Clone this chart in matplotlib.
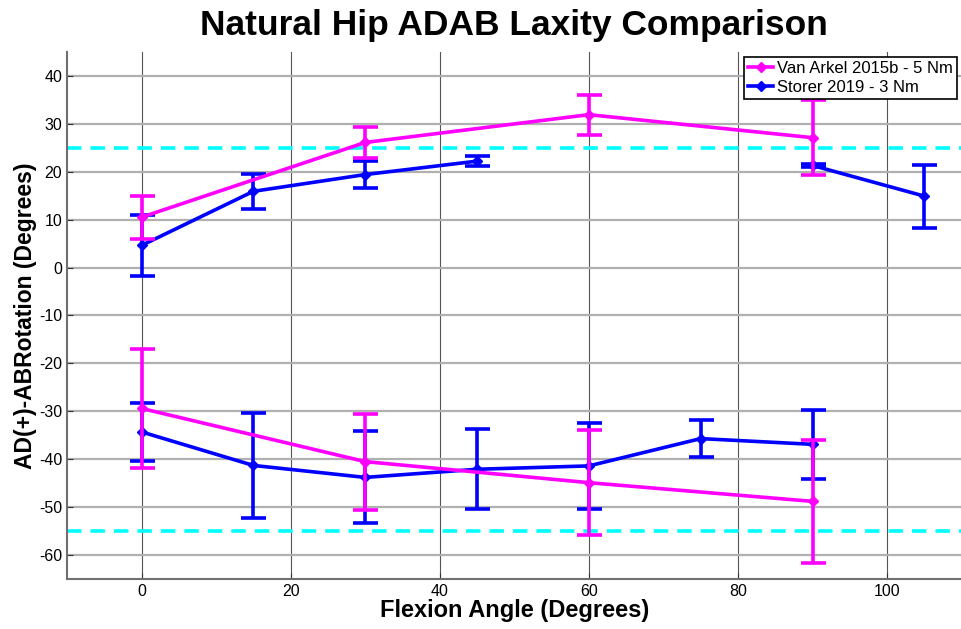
import numpy as np
import matplotlib.pyplot as plt
from matplotlib.lines import Line2D

plt.rcParams['font.family'] = ['Liberation Sans', 'DejaVu Sans']
plt.rcParams['axes.unicode_minus'] = False

# Van Arkel 2015b - 5 Nm
va_flex = [0, 30, 60, 90]
va_ad = [10.5, 26.1, 31.9, 27.1]
va_ad_sd = [4.5, 3.3, 4.2, 7.8]
va_ab = [-29.4, -40.5, -44.9, -48.8]
va_ab_sd = [12.4, 10.0, 11.0, 12.8]

# Storer 2019 - 3 Nm (no adduction data at 60 and 75)
st_flex = [0, 15, 30, 45, 60, 75, 90, 105]
st_ad = [4.6, 15.9, 19.4, 22.2, np.nan, np.nan, 21.3, 14.9]
st_ad_sd = [6.3, 3.6, 2.8, 1.0, np.nan, np.nan, 0.3, 6.6]
st_ab = [-34.3, -41.3, -43.8, -42.1, -41.4, -35.7, -36.9, np.nan]
st_ab_sd = [6.0, 10.9, 9.6, 8.3, 8.9, 3.8, 7.2, np.nan]

limits = [25, -55]

magenta, blue = '#ff00ff', '#0000ff'

fig = plt.figure(figsize=(9.62, 6.29), dpi=100)
ax = fig.add_axes([0.0696, 0.0795, 0.93, 0.838])

eb = dict(lw=2.6, marker='D', ms=5.5, capsize=9, capthick=2.6, elinewidth=2.6)
ax.errorbar(va_flex, va_ad, yerr=va_ad_sd, color=magenta, zorder=4, **eb)
ax.errorbar(st_flex, st_ad, yerr=st_ad_sd, color=blue, zorder=3, **eb)
ax.errorbar(va_flex, va_ab, yerr=va_ab_sd, color=magenta, zorder=4, **eb)
ax.errorbar(st_flex, st_ab, yerr=st_ab_sd, color=blue, zorder=3, **eb)

for lim in limits:
    ax.axhline(lim, color='#00ffff', lw=2.6, ls=(0, (4, 2.5)), zorder=2)

ax.set_xlim(-10, 110)
ax.set_ylim(-65, 45)
ax.set_xticks(np.arange(0, 101, 20))
ax.set_yticks(np.arange(-60, 41, 10))
ax.tick_params(labelsize=11.5, direction='in', length=4, color='#333333')

ax.xaxis.grid(True, color='#555555', lw=0.8)
ax.yaxis.grid(True, color='#b0b0b0', lw=1.6)
ax.set_axisbelow(True)
for s in ['top', 'right']:
    ax.spines[s].set_visible(False)
for s in ['left', 'bottom']:
    ax.spines[s].set_color('#707070')
    ax.spines[s].set_linewidth(1.5)

ax.set_xlabel('Flexion Angle (Degrees)', fontsize=17, fontweight='bold', labelpad=0)
ax.set_ylabel('AD(+)-ABRotation (Degrees)', fontsize=16.5, fontweight='bold', labelpad=1)
ax.set_title('Natural Hip ADAB Laxity Comparison', fontsize=25.5, fontweight='bold', pad=12)

handles = [Line2D([], [], color=magenta, lw=2.6, marker='D', ms=5.5),
           Line2D([], [], color=blue, lw=2.6, marker='D', ms=5.5)]
labels = ['Van Arkel 2015b - 5 Nm', 'Storer 2019 - 3 Nm']
leg = ax.legend(handles, labels, loc='upper right', fontsize=12, fancybox=False, framealpha=1,
                edgecolor='black', borderpad=0.25, handlelength=1.5, handletextpad=0.2,
                labelspacing=0.25, borderaxespad=0.3)
leg.get_frame().set_linewidth(1.2)

fig.savefig('out.png', dpi=100)
